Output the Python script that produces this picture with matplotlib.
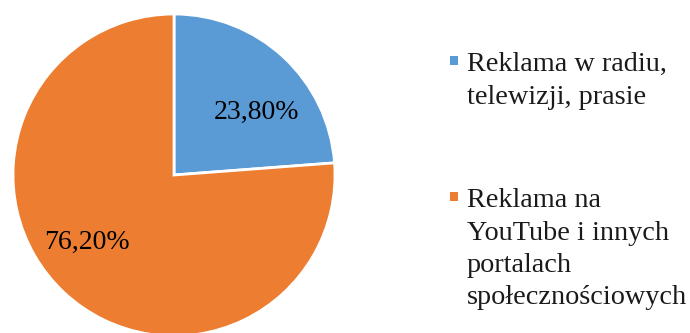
import matplotlib
matplotlib.use("Agg")
import matplotlib.pyplot as plt
from matplotlib.patches import Rectangle

categories = ["Reklama w radiu,\ntelewizji, prasie",
              "Reklama na\nYouTube i innych\nportalach\nspołecznościowych"]
values = [23.80, 76.20]
colors = ["#5B9BD5", "#ED7D31"]

W, H = 690, 333
fig = plt.figure(figsize=(W / 100, H / 100), dpi=100)
plt.rcParams["font.family"] = ["Liberation Serif", "DejaVu Serif"]
FS_LABEL = 20
FS_LEGEND = 20.3

# pie placed in pixel terms: centre (174, 175 from top), radius 161
cx, cy, r = 174, H - 175, 161
ax = fig.add_axes([(cx - r) / W, (cy - r) / H, 2 * r / W, 2 * r / H])
wedges, _ = ax.pie(values, colors=colors, startangle=90, counterclock=False,
                   radius=1.0, wedgeprops=dict(edgecolor="white", linewidth=2))
ax.set_xlim(-1, 1)
ax.set_ylim(-1, 1)
ax.set_aspect("auto")
ax.axis("off")
for w in wedges:
    w.set_clip_on(False)

# value labels inside the wedges
label_pos = [(0.51, 0.39), (-0.54, -0.42)]
for v, (lx, ly) in zip(values, label_pos):
    ax.text(lx, ly, f"{v:.2f}%".replace(".", ","), ha="center", va="center",
            fontsize=FS_LABEL, color="black")

# legend drawn on the right, one text line at a time
first_baselines = [71, 207]
line_step = 32.5
for cat, col, b in zip(categories, colors, first_baselines):
    fig.patches.append(Rectangle((450 / W, (H - b + 6) / H), 8 / W, 9 / H,
                                 transform=fig.transFigure, facecolor=col,
                                 edgecolor="none"))
    for i, line in enumerate(cat.split("\n")):
        fig.text(467 / W, (H - b - i * line_step) / H, line, ha="left",
                 va="baseline", fontsize=FS_LEGEND, color="#1a1a1a")

fig.savefig("out.png", dpi=100, facecolor="white")
